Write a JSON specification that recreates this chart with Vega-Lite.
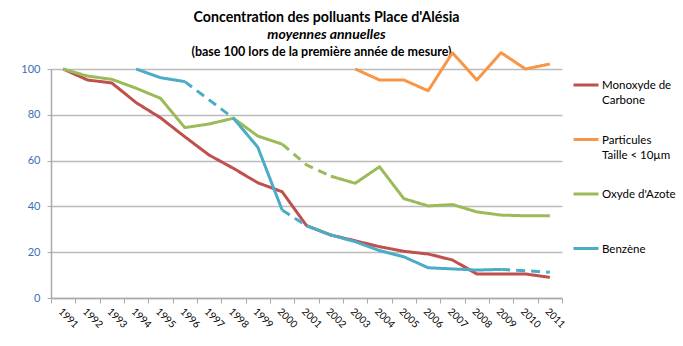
{
  "$schema": "https://vega.github.io/schema/vega-lite/v6.json",
  "width": 511,
  "height": 229,
  "autosize": "none",
  "padding": {"left": 51, "top": 69, "right": 121, "bottom": 48},
  "background": "white",
  "title": {
    "text": "Concentration des polluants Place d'Alésia",
    "subtitle": "moyennes annuelles",
    "font": "Lato", "fontSize": 14.2, "fontWeight": "bold", "color": "black",
    "subtitleFont": "Lato", "subtitleFontSize": 14, "subtitleFontWeight": "bold",
    "subtitleFontStyle": "italic", "subtitleColor": "black",
    "anchor": "middle", "frame": "group", "dx": 20, "offset": 3, "subtitlePadding": 3
  },
  "config": {
    "view": {"stroke": null},
    "font": "Lato"
  },
  "data": {"values": [
    {"year": "1991", "serie": "Monoxyde de Carbone", "seg": "co", "style": "solid", "value": 100},
    {"year": "1992", "serie": "Monoxyde de Carbone", "seg": "co", "style": "solid", "value": 95.2},
    {"year": "1993", "serie": "Monoxyde de Carbone", "seg": "co", "style": "solid", "value": 93.9},
    {"year": "1994", "serie": "Monoxyde de Carbone", "seg": "co", "style": "solid", "value": 85.3},
    {"year": "1995", "serie": "Monoxyde de Carbone", "seg": "co", "style": "solid", "value": 78.7},
    {"year": "1996", "serie": "Monoxyde de Carbone", "seg": "co", "style": "solid", "value": 70.4},
    {"year": "1997", "serie": "Monoxyde de Carbone", "seg": "co", "style": "solid", "value": 62.4},
    {"year": "1998", "serie": "Monoxyde de Carbone", "seg": "co", "style": "solid", "value": 56.6},
    {"year": "1999", "serie": "Monoxyde de Carbone", "seg": "co", "style": "solid", "value": 50.3},
    {"year": "2000", "serie": "Monoxyde de Carbone", "seg": "co", "style": "solid", "value": 46.4},
    {"year": "2001", "serie": "Monoxyde de Carbone", "seg": "co", "style": "solid", "value": 31.6},
    {"year": "2002", "serie": "Monoxyde de Carbone", "seg": "co", "style": "solid", "value": 27.5},
    {"year": "2003", "serie": "Monoxyde de Carbone", "seg": "co", "style": "solid", "value": 25.0},
    {"year": "2004", "serie": "Monoxyde de Carbone", "seg": "co", "style": "solid", "value": 22.4},
    {"year": "2005", "serie": "Monoxyde de Carbone", "seg": "co", "style": "solid", "value": 20.4},
    {"year": "2006", "serie": "Monoxyde de Carbone", "seg": "co", "style": "solid", "value": 19.2},
    {"year": "2007", "serie": "Monoxyde de Carbone", "seg": "co", "style": "solid", "value": 16.6},
    {"year": "2008", "serie": "Monoxyde de Carbone", "seg": "co", "style": "solid", "value": 10.5},
    {"year": "2009", "serie": "Monoxyde de Carbone", "seg": "co", "style": "solid", "value": 10.5},
    {"year": "2010", "serie": "Monoxyde de Carbone", "seg": "co", "style": "solid", "value": 10.5},
    {"year": "2011", "serie": "Monoxyde de Carbone", "seg": "co", "style": "solid", "value": 9.0},

    {"year": "2003", "serie": "Particules Taille < 10µm", "seg": "pm", "style": "solid", "value": 100},
    {"year": "2004", "serie": "Particules Taille < 10µm", "seg": "pm", "style": "solid", "value": 95.2},
    {"year": "2005", "serie": "Particules Taille < 10µm", "seg": "pm", "style": "solid", "value": 95.2},
    {"year": "2006", "serie": "Particules Taille < 10µm", "seg": "pm", "style": "solid", "value": 90.5},
    {"year": "2007", "serie": "Particules Taille < 10µm", "seg": "pm", "style": "solid", "value": 107.1},
    {"year": "2008", "serie": "Particules Taille < 10µm", "seg": "pm", "style": "solid", "value": 95.2},
    {"year": "2009", "serie": "Particules Taille < 10µm", "seg": "pm", "style": "solid", "value": 107.1},
    {"year": "2010", "serie": "Particules Taille < 10µm", "seg": "pm", "style": "solid", "value": 100},
    {"year": "2011", "serie": "Particules Taille < 10µm", "seg": "pm", "style": "solid", "value": 102.2},

    {"year": "1991", "serie": "Oxyde d'Azote", "seg": "no1", "style": "solid", "value": 100},
    {"year": "1992", "serie": "Oxyde d'Azote", "seg": "no1", "style": "solid", "value": 96.9},
    {"year": "1993", "serie": "Oxyde d'Azote", "seg": "no1", "style": "solid", "value": 95.5},
    {"year": "1994", "serie": "Oxyde d'Azote", "seg": "no1", "style": "solid", "value": 91.6},
    {"year": "1995", "serie": "Oxyde d'Azote", "seg": "no1", "style": "solid", "value": 87.2},
    {"year": "1996", "serie": "Oxyde d'Azote", "seg": "no1", "style": "solid", "value": 74.4},
    {"year": "1997", "serie": "Oxyde d'Azote", "seg": "no1", "style": "solid", "value": 76.0},
    {"year": "1998", "serie": "Oxyde d'Azote", "seg": "no1", "style": "solid", "value": 78.5},
    {"year": "1999", "serie": "Oxyde d'Azote", "seg": "no1", "style": "solid", "value": 70.7},
    {"year": "2000", "serie": "Oxyde d'Azote", "seg": "no1", "style": "solid", "value": 67.2},
    {"year": "2000", "serie": "Oxyde d'Azote", "seg": "no2", "style": "dashed", "value": 67.2},
    {"year": "2001", "serie": "Oxyde d'Azote", "seg": "no2", "style": "dashed", "value": 58.1},
    {"year": "2002", "serie": "Oxyde d'Azote", "seg": "no2", "style": "dashed", "value": 53.2},
    {"year": "2002", "serie": "Oxyde d'Azote", "seg": "no3", "style": "solid", "value": 53.2},
    {"year": "2003", "serie": "Oxyde d'Azote", "seg": "no3", "style": "solid", "value": 50.1},
    {"year": "2004", "serie": "Oxyde d'Azote", "seg": "no3", "style": "solid", "value": 57.3},
    {"year": "2005", "serie": "Oxyde d'Azote", "seg": "no3", "style": "solid", "value": 43.4},
    {"year": "2006", "serie": "Oxyde d'Azote", "seg": "no3", "style": "solid", "value": 40.2},
    {"year": "2007", "serie": "Oxyde d'Azote", "seg": "no3", "style": "solid", "value": 40.8},
    {"year": "2008", "serie": "Oxyde d'Azote", "seg": "no3", "style": "solid", "value": 37.6},
    {"year": "2009", "serie": "Oxyde d'Azote", "seg": "no3", "style": "solid", "value": 36.2},
    {"year": "2010", "serie": "Oxyde d'Azote", "seg": "no3", "style": "solid", "value": 35.9},
    {"year": "2011", "serie": "Oxyde d'Azote", "seg": "no3", "style": "solid", "value": 35.9},

    {"year": "1994", "serie": "Benzène", "seg": "bz1", "style": "solid", "value": 100},
    {"year": "1995", "serie": "Benzène", "seg": "bz1", "style": "solid", "value": 96.2},
    {"year": "1996", "serie": "Benzène", "seg": "bz1", "style": "solid", "value": 94.5},
    {"year": "1996", "serie": "Benzène", "seg": "bz2", "style": "dashed", "value": 94.5},
    {"year": "1998", "serie": "Benzène", "seg": "bz2", "style": "dashed", "value": 78.5},
    {"year": "1998", "serie": "Benzène", "seg": "bz3", "style": "solid", "value": 78.5},
    {"year": "1999", "serie": "Benzène", "seg": "bz3", "style": "solid", "value": 65.8},
    {"year": "2000", "serie": "Benzène", "seg": "bz3", "style": "solid", "value": 38.4},
    {"year": "2000", "serie": "Benzène", "seg": "bz4", "style": "dashed", "value": 38.4},
    {"year": "2001", "serie": "Benzène", "seg": "bz4", "style": "dashed", "value": 31.6},
    {"year": "2001", "serie": "Benzène", "seg": "bz5", "style": "solid", "value": 31.6},
    {"year": "2002", "serie": "Benzène", "seg": "bz5", "style": "solid", "value": 27.5},
    {"year": "2003", "serie": "Benzène", "seg": "bz5", "style": "solid", "value": 24.6},
    {"year": "2004", "serie": "Benzène", "seg": "bz5", "style": "solid", "value": 20.7},
    {"year": "2005", "serie": "Benzène", "seg": "bz5", "style": "solid", "value": 18.0},
    {"year": "2006", "serie": "Benzène", "seg": "bz5", "style": "solid", "value": 13.2},
    {"year": "2007", "serie": "Benzène", "seg": "bz5", "style": "solid", "value": 12.7},
    {"year": "2008", "serie": "Benzène", "seg": "bz5", "style": "solid", "value": 12.2},
    {"year": "2009", "serie": "Benzène", "seg": "bz5", "style": "solid", "value": 12.5},
    {"year": "2009", "serie": "Benzène", "seg": "bz6", "style": "dashed", "value": 12.5},
    {"year": "2010", "serie": "Benzène", "seg": "bz6", "style": "dashed", "value": 11.9},
    {"year": "2011", "serie": "Benzène", "seg": "bz6", "style": "dashed", "value": 11.2}
  ]},
  "layer": [
    {
      "mark": {"type": "line", "strokeWidth": 3, "strokeCap": "butt", "strokeJoin": "round"},
      "encoding": {
        "x": {
          "field": "year", "type": "ordinal",
          "scale": {"type": "band", "paddingInner": 0, "paddingOuter": 0},
          "axis": {
            "title": null, "tickBand": "extent", "grid": false,
            "labelAngle": 45, "labelFontSize": 10, "labelColor": "black", "labelFont": "Lato",
            "domainColor": "#aaaaaa", "domainWidth": 1.5, "tickColor": "#aaaaaa", "tickWidth": 1, "tickSize": 5,
            "labelPadding": 3
          }
        },
        "y": {
          "field": "value", "type": "quantitative",
          "scale": {"domain": [0, 100], "nice": false},
          "axis": {
            "title": null, "values": [0, 20, 40, 60, 80, 100],
            "grid": true, "gridColor": "#bbbbbb", "gridWidth": 1.5,
            "domainColor": "#aaaaaa", "domainWidth": 1.5, "tickColor": "#aaaaaa", "tickSize": 4,
            "labelColor": "#3d6fb6", "labelFontSize": 11, "labelFont": "Lato", "labelPadding": 7
          }
        },
        "stroke": {
          "field": "serie", "type": "nominal",
          "scale": {
            "domain": ["Monoxyde de Carbone", "Particules Taille < 10µm", "Oxyde d'Azote", "Benzène"],
            "range": ["#c0504d", "#f79646", "#9bbb59", "#4bacc6"]
          },
          "legend": {
            "title": null, "orient": "none", "legendX": 521, "legendY": 1,
            "symbolType": "stroke", "symbolStrokeWidth": 3, "symbolSize": 625, "symbolDash": [1, 0],
            "labelFont": "Lato", "labelFontSize": 11.5, "labelColor": "black", "labelOffset": 2,
            "labelBaseline": "top", "clipHeight": 30,
            "rowPadding": 17.5, "labelLimit": 200,
            "labelExpr": "datum.label == 'Monoxyde de Carbone' ? ['Monoxyde de', 'Carbone'] : datum.label == 'Particules Taille < 10µm' ? ['Particules', 'Taille < 10µm'] : [datum.label, ' ']",
            "encode": {
              "symbols": {"update": {"stroke": [{"test": "datum.label === 'Benzène'", "value": "#5b8fcf"}, {"scale": "stroke", "field": "value"}]}},
              "labels": {"update": {"lineHeight": {"value": 15}, "dy": {"value": -5}}}
            }
          }
        },
        "strokeDash": {
          "field": "style", "type": "nominal",
          "scale": {"domain": ["solid", "dashed"], "range": [[1, 0], [9, 6]]},
          "legend": null
        },
        "detail": {"field": "seg"}
      }
    },
    {
      "mark": {"type": "line", "strokeOpacity": 0},
      "encoding": {
        "x": {
          "field": "year", "type": "ordinal",
          "axis": {
            "orient": "top", "title": "(base 100 lors de la première année de mesure)",
            "titleFont": "Lato", "titleFontSize": 12.5, "titleFontWeight": "bold", "titleColor": "black",
            "titlePadding": 11, "titleX": 270, "titleAlign": "center",
            "labels": false, "ticks": false, "domain": false, "grid": false
          }
        },
        "y": {"field": "value", "type": "quantitative"},
        "detail": {"field": "seg"}
      }
    }
  ],
  "resolve": {"axis": {"x": "independent"}}
}
